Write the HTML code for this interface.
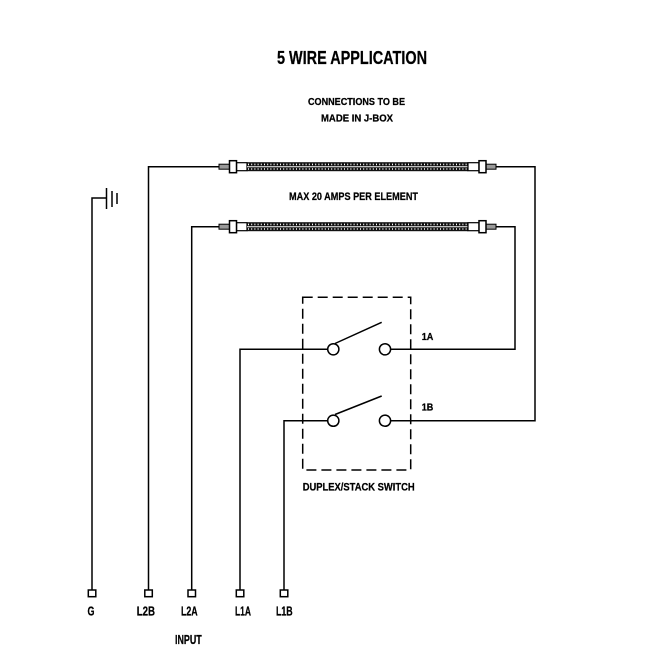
<!DOCTYPE html>
<html>
<head>
<meta charset="utf-8">
<style>
html,body{margin:0;padding:0;background:#fff;}
svg{display:block;}
text{font-family:"Liberation Sans",sans-serif;font-weight:bold;fill:#000;stroke:#000;stroke-width:0.25;}
</style>
</head>
<body>
<svg width="666" height="666" viewBox="0 0 666 666" xmlns="http://www.w3.org/2000/svg">
<rect width="666" height="666" fill="#fff"/>

<!-- Titles -->
<text x="277" y="64" font-size="18" textLength="150" lengthAdjust="spacingAndGlyphs">5 WIRE APPLICATION</text>
<text x="308" y="105" font-size="10" textLength="97" lengthAdjust="spacingAndGlyphs">CONNECTIONS TO BE</text>
<text x="321" y="121.7" font-size="10" textLength="72" lengthAdjust="spacingAndGlyphs">MADE IN J-BOX</text>
<text x="289" y="200" font-size="11" textLength="129" lengthAdjust="spacingAndGlyphs">MAX 20 AMPS PER ELEMENT</text>

<g fill="none" stroke="#000" stroke-width="1.5">
  <!-- Ground -->
  <polyline points="92,590 92,198 106.5,198"/>
  <line x1="106.5" y1="188" x2="106.5" y2="209"/>
  <line x1="112" y1="191" x2="112" y2="207"/>
  <line x1="117" y1="193" x2="117" y2="204"/>
  <!-- L2B -->
  <polyline points="148.5,590 148.5,166.7 219,166.7"/>
  <!-- L2A -->
  <polyline points="191.7,590 191.7,226.7 219,226.7"/>
  <!-- L1A -->
  <polyline points="240,590 240,349.3 327.5,349.3"/>
  <!-- L1B -->
  <polyline points="284,590 284,420.7 327.5,420.7"/>
  <!-- Right returns -->
  <polyline points="496,166.7 535,166.7 535,420.7 391,420.7"/>
  <polyline points="496,226.7 515,226.7 515,349.3 391,349.3"/>
  <!-- switch levers -->
  <line x1="335" y1="343.5" x2="381.7" y2="322.3"/>
  <line x1="335" y1="414.5" x2="381.7" y2="396"/>
</g>

<!-- Switch box -->
<rect x="302.7" y="297.3" width="108" height="172.7" fill="none" stroke="#000" stroke-width="1.5" stroke-dasharray="10 5"/>

<!-- Switch contacts -->
<g fill="#fff" stroke="#000" stroke-width="1.5">
  <circle cx="333.3" cy="349.3" r="5.6"/>
  <circle cx="385" cy="349.3" r="5.6"/>
  <circle cx="333.3" cy="420.7" r="5.6"/>
  <circle cx="385" cy="420.7" r="5.6"/>
</g>

<!-- Heating elements -->
<g transform="translate(0,166.7)">
  <rect x="219" y="-2.5" width="10.5" height="5" fill="#999" stroke="#000" stroke-width="1"/>
  <rect x="236.5" y="-4" width="10.5" height="8" fill="#fff" stroke="#000" stroke-width="1.2"/>
  <rect x="229.5" y="-6" width="7" height="12" fill="#fff" stroke="#000" stroke-width="1.5"/>
  <rect x="247" y="-4.5" width="221" height="9" fill="#111"/>
  <line x1="247" y1="0" x2="468" y2="0" stroke="#fff" stroke-width="1"/>
  <line x1="248" y1="-2.3" x2="468" y2="-2.3" stroke="#fff" stroke-width="1.6" stroke-dasharray="1 2.2"/>
  <line x1="248" y1="2.3" x2="468" y2="2.3" stroke="#fff" stroke-width="1.6" stroke-dasharray="1 2.2"/>
  <rect x="468" y="-4" width="11" height="8" fill="#fff" stroke="#000" stroke-width="1.2"/>
  <rect x="486" y="-2.5" width="10" height="5" fill="#999" stroke="#000" stroke-width="1"/>
  <rect x="479" y="-6" width="7" height="12" fill="#fff" stroke="#000" stroke-width="1.5"/>
</g>
<g transform="translate(0,226.7)">
  <rect x="219" y="-2.5" width="10.5" height="5" fill="#999" stroke="#000" stroke-width="1"/>
  <rect x="236.5" y="-4" width="10.5" height="8" fill="#fff" stroke="#000" stroke-width="1.2"/>
  <rect x="229.5" y="-6" width="7" height="12" fill="#fff" stroke="#000" stroke-width="1.5"/>
  <rect x="247" y="-4.5" width="221" height="9" fill="#111"/>
  <line x1="247" y1="0" x2="468" y2="0" stroke="#fff" stroke-width="1"/>
  <line x1="248" y1="-2.3" x2="468" y2="-2.3" stroke="#fff" stroke-width="1.6" stroke-dasharray="1 2.2"/>
  <line x1="248" y1="2.3" x2="468" y2="2.3" stroke="#fff" stroke-width="1.6" stroke-dasharray="1 2.2"/>
  <rect x="468" y="-4" width="11" height="8" fill="#fff" stroke="#000" stroke-width="1.2"/>
  <rect x="486" y="-2.5" width="10" height="5" fill="#999" stroke="#000" stroke-width="1"/>
  <rect x="479" y="-6" width="7" height="12" fill="#fff" stroke="#000" stroke-width="1.5"/>
</g>

<!-- Switch labels -->
<text x="421.7" y="340" font-size="10" textLength="11.6" lengthAdjust="spacingAndGlyphs">1A</text>
<text x="421.7" y="410.5" font-size="10" textLength="11.6" lengthAdjust="spacingAndGlyphs">1B</text>
<text x="302.7" y="490.7" font-size="11" textLength="112" lengthAdjust="spacingAndGlyphs">DUPLEX/STACK SWITCH</text>

<!-- Terminals -->
<g fill="#fff" stroke="#000" stroke-width="1.5">
  <rect x="88.3" y="590" width="7.5" height="6.7"/>
  <rect x="144.8" y="590" width="7.5" height="6.7"/>
  <rect x="188" y="590" width="7.5" height="6.7"/>
  <rect x="236.3" y="590" width="7.5" height="6.7"/>
  <rect x="280.3" y="590" width="7.5" height="6.7"/>
</g>

<!-- Terminal labels -->
<text x="87.5" y="615.7" font-size="12.5" textLength="7" lengthAdjust="spacingAndGlyphs">G</text>
<text x="136.7" y="615.7" font-size="12.5" textLength="18.3" lengthAdjust="spacingAndGlyphs">L2B</text>
<text x="181" y="615.7" font-size="12.5" textLength="16.7" lengthAdjust="spacingAndGlyphs">L2A</text>
<text x="235" y="615.7" font-size="12.5" textLength="16" lengthAdjust="spacingAndGlyphs">L1A</text>
<text x="276" y="615.7" font-size="12.5" textLength="16.7" lengthAdjust="spacingAndGlyphs">L1B</text>
<text x="175" y="644" font-size="12.5" textLength="26.7" lengthAdjust="spacingAndGlyphs">INPUT</text>
</svg>
</body>
</html>
